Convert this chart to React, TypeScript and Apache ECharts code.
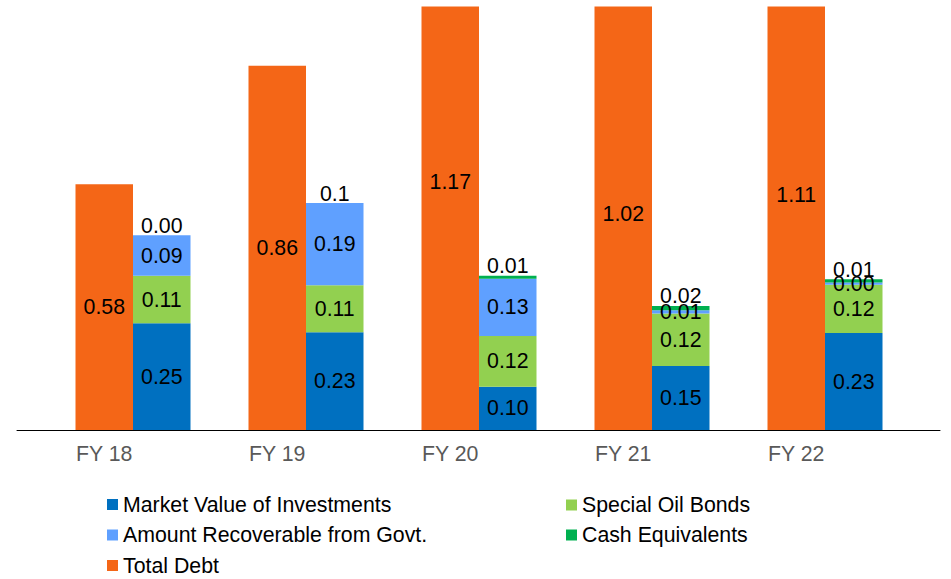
import React, { useEffect, useRef } from "react";
import * as echarts from "echarts";

const categories = ["FY 18", "FY 19", "FY 20", "FY 21", "FY 22"];

const totalDebt = [0.58, 0.86, 1.17, 1.02, 1.11];

const marketValue = [0.252, 0.231, 0.102, 0.151, 0.229];
const marketValueLabels = ["0.25", "0.23", "0.10", "0.15", "0.23"];

const oilBonds = [0.112, 0.111, 0.12, 0.124, 0.114];
const oilBondsLabels = ["0.11", "0.11", "0.12", "0.12", "0.12"];

const recoverable = [0.096, 0.194, 0.135, 0.008, 0.005];
const recoverableLabels = ["0.09", "0.19", "0.13", "0.01", "0.00"];

const cashEq = [0, 0, 0.007, 0.01, 0.008];
const cashEqLabels = ["0.00", "0.1", "0.01", "0.02", "0.01"];

const FONT = "'Liberation Sans', Arial, sans-serif";
const C_MV = "#0070C0";
const C_OB = "#92D050";
const C_AR = "#5FA0FF";
const C_CE = "#00B050";
const C_TD = "#F46617";

export default function App() {
  const ref = useRef<HTMLDivElement>(null);

  useEffect(() => {
    if (!ref.current) return;
    const chart = echarts.init(ref.current, undefined, { renderer: "svg" });

    const lbl = (arr: string[], pos: string = "inside", distance: number = 4) => ({
      show: true,
      position: pos,
      distance,
      color: "#000",
      fontSize: 21.3,
      fontFamily: FONT,
      formatter: (p: any) => arr[p.dataIndex],
    });

    const legendText = { color: "#000", fontSize: 21.3, fontFamily: FONT, lineHeight: 21 };
    const mkLegend = (name: string, left: number, top: number) => ({
      data: [name],
      left,
      top,
      orient: "horizontal",
      padding: 0,
      itemWidth: 11,
      itemHeight: 11,
      icon: "rect",
      selectedMode: false,
      textStyle: legendText,
    });

    chart.setOption({
      animation: false,
      backgroundColor: "#fff",
      grid: [
        { left: 46.5, right: 39.5, top: 6.5, bottom: 149 },
        { left: 17, right: 11, top: 6.5, bottom: 149 },
      ],
      legend: [
        mkLegend("Market Value of Investments", 107, 494),
        mkLegend("Amount Recoverable from Govt.", 107, 524.5),
        mkLegend("Total Debt", 107, 555),
        mkLegend("Special Oil Bonds", 566, 494.5),
        mkLegend("Cash Equivalents", 566, 524.5),
      ],
      xAxis: [
        {
          type: "category",
          gridIndex: 0,
          data: categories,
          axisLine: { show: false },
          axisTick: { show: false },
          axisLabel: {
            color: "#595959",
            fontSize: 21.3,
            fontFamily: FONT,
            margin: 13,
            padding: [0, 57.5, 0, 0],
          },
        },
        {
          type: "value",
          gridIndex: 1,
          min: 0,
          max: 1,
          axisLine: { show: true, lineStyle: { color: "#000", width: 1 } },
          axisTick: { show: false },
          axisLabel: { show: false },
          splitLine: { show: false },
        },
      ],
      yAxis: [
        { type: "value", gridIndex: 0, min: 0, max: 1, show: false, splitLine: { show: false } },
        { type: "value", gridIndex: 1, min: 0, max: 1, show: false, splitLine: { show: false } },
      ],
      series: [
        {
          name: "Total Debt",
          type: "bar",
          data: totalDebt,
          barWidth: 57.5,
          barGap: "0%",
          clip: false,
          itemStyle: { color: C_TD },
          label: lbl(totalDebt.map((v) => v.toFixed(2))),
        },
        {
          name: "Market Value of Investments",
          type: "bar",
          stack: "assets",
          data: marketValue,
          barWidth: 57.5,
          barGap: "0%",
          itemStyle: { color: C_MV },
          label: lbl(marketValueLabels),
        },
        {
          name: "Special Oil Bonds",
          type: "bar",
          stack: "assets",
          data: oilBonds,
          barWidth: 57.5,
          itemStyle: { color: C_OB },
          label: lbl(oilBondsLabels),
        },
        {
          name: "Amount Recoverable from Govt.",
          type: "bar",
          stack: "assets",
          data: recoverable,
          barWidth: 57.5,
          itemStyle: { color: C_AR },
          label: lbl(recoverableLabels),
        },
        {
          name: "Cash Equivalents",
          type: "bar",
          stack: "assets",
          data: cashEq,
          barWidth: 57.5,
          itemStyle: { color: C_CE },
          label: lbl(cashEqLabels, "top", -1),
        },
      ],
      graphic: [
        {
          type: "rect",
          z: 100,
          shape: { x: 0, y: 0, width: 951, height: 6.5 },
          style: { fill: "#fff" },
          silent: true,
        },
      ],
    });

    return () => chart.dispose();
  }, []);

  return (
    <div
      ref={ref}
      style={{ position: "fixed", top: 0, left: 0, width: 951, height: 579 }}
    />
  );
}
